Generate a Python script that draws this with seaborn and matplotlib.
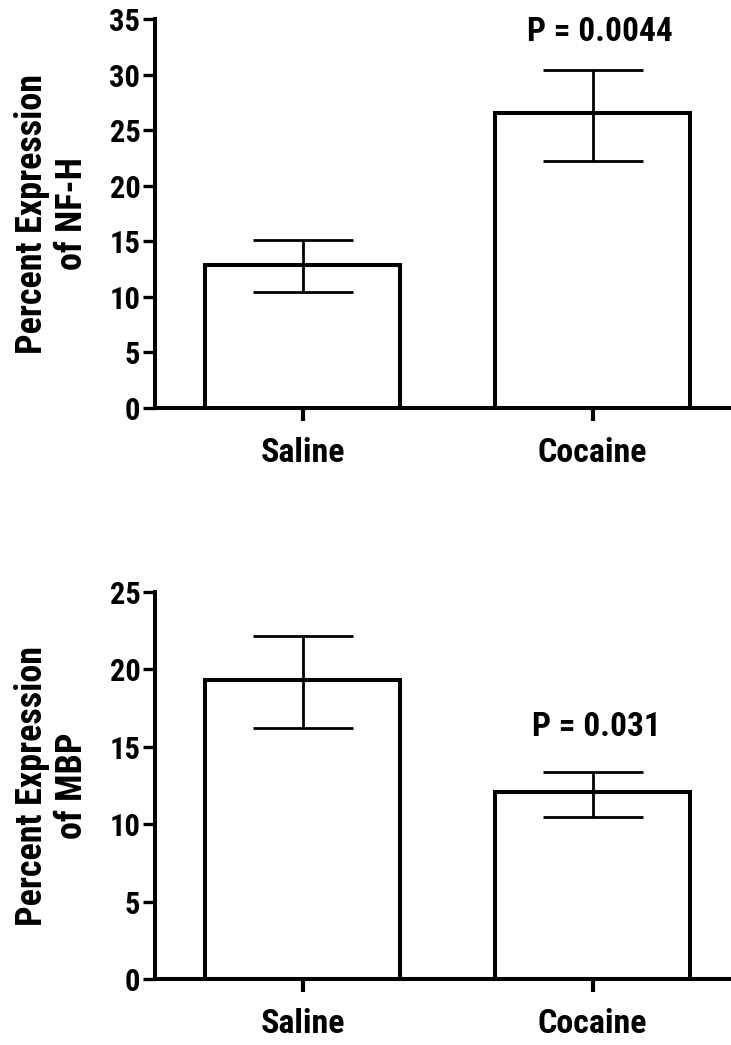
import matplotlib
matplotlib.use("Agg")
import matplotlib.pyplot as plt
from matplotlib import font_manager
import seaborn as sns
import numpy as np

# ---- data ----
categories = ["Saline", "Cocaine"]
nfh_mean = [12.85, 26.5]
nfh_low = [10.45, 22.2]
nfh_high = [15.1, 30.4]
nfh_label = "Percent Expression\nof NF-H"
nfh_p = "P = 0.0044"
nfh_yticks = [0, 5, 10, 15, 20, 25, 30, 35]

mbp_mean = [19.3, 12.05]
mbp_low = [16.2, 10.45]
mbp_high = [22.15, 13.4]
mbp_label = "Percent Expression\nof MBP"
mbp_p = "P = 0.031"
mbp_yticks = [0, 5, 10, 15, 20, 25]

sns.set_style("ticks")
names = {f.name for f in font_manager.fontManager.ttflist}
narrow = "DejaVu Sans"
for cand in ["Liberation Sans Narrow", "Roboto Condensed", "PT Sans Narrow",
             "Archivo Narrow", "IBM Plex Sans Condensed"]:
    if cand in names:
        narrow = cand
        break
plt.rcParams["font.family"] = [narrow, "DejaVu Sans"]
plt.rcParams["font.weight"] = "bold"
for k in ["text.color", "axes.labelcolor", "xtick.color", "ytick.color", "axes.edgecolor"]:
    plt.rcParams[k] = "black"

fig = plt.figure(figsize=(7.31, 10.45), dpi=100)
W, H = 731, 1045

def make_axes(y0px, ytoppx):
    left = 155 / W
    bottom = (H - y0px) / H
    height = (y0px - ytoppx) / H
    return fig.add_axes([left, bottom, 1 - left, height])

ax1 = make_axes(408, 19)
ax2 = make_axes(979, 592)

panels = [
    (ax1, nfh_mean, nfh_low, nfh_high, nfh_label, nfh_p, nfh_yticks, 33.8, 1.026),
    (ax2, mbp_mean, mbp_low, mbp_high, mbp_label, mbp_p, mbp_yticks, 16.3, 1.013),
]

for ax, mean, low, high, label, ptxt, yticks, py, px in panels:
    sns.barplot(x=categories, y=mean, ax=ax, color="white", edgecolor="black",
                linewidth=2.9, width=0.672, errorbar=None, saturation=1)
    xs = np.arange(len(categories))
    m = np.array(mean)
    yerr = [m - np.array(low), np.array(high) - m]
    ax.errorbar(xs, m, yerr=yerr, fmt="none", ecolor="black", elinewidth=2.0,
                capsize=36, capthick=2.0, zorder=5)
    ax.set_xlim(-0.509, 1.477)
    ax.set_ylim(0, yticks[-1])
    ax.set_yticks(yticks)
    ax.set_yticklabels([str(t) for t in yticks], fontsize=22, fontweight="bold",
                       fontstretch="condensed")
    ax.set_xticks(xs)
    ax.set_xticklabels(categories, fontsize=24.5, fontweight="bold", fontstretch="condensed")
    for s in ["top", "right"]:
        ax.spines[s].set_visible(False)
    for s in ["left", "bottom"]:
        ax.spines[s].set_linewidth(2.9)
    ax.tick_params(axis="y", length=9, width=2.4, pad=1.5, direction="out")
    ax.tick_params(axis="x", length=9, width=3.0, pad=12, direction="out")
    ax.set_xlabel("")
    ax.set_ylabel(label, fontsize=26, fontweight="bold", linespacing=1.15,
                  fontstretch="condensed")
    ax.yaxis.label.set_va("center")
    ax.yaxis.set_label_coords(-0.179, 0.5)
    ax.text(px, py, ptxt, ha="center", va="center", fontsize=24, fontweight="bold",
            fontstretch="condensed")
    ax.set_facecolor("white")

fig.savefig("out.png", dpi=100, facecolor="white")
